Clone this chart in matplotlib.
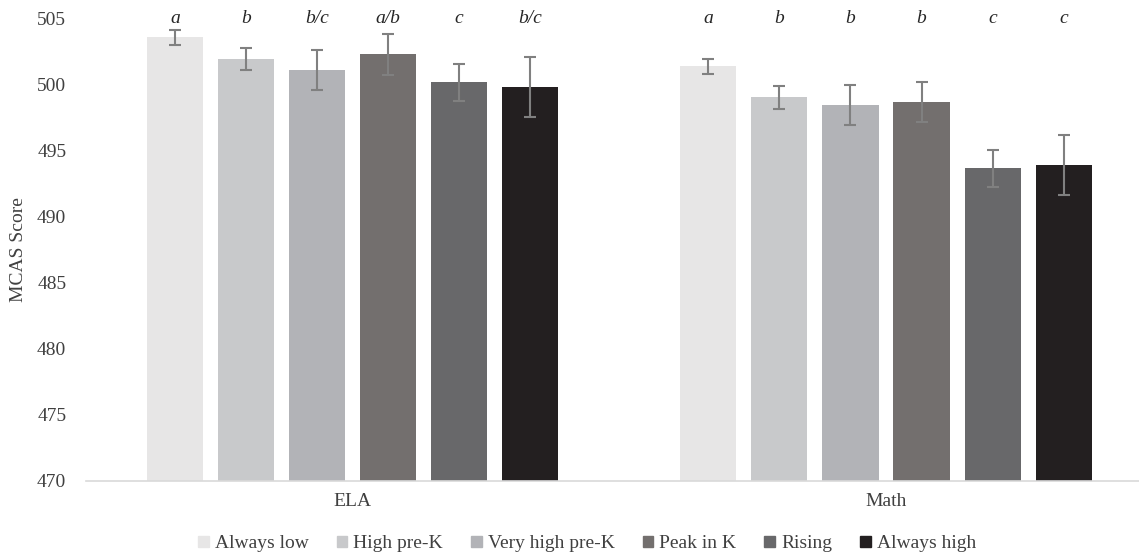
import numpy as np
import matplotlib
matplotlib.use('Agg')
import matplotlib.pyplot as plt
from matplotlib.patches import Rectangle

plt.rcParams['font.family'] = ['Liberation Serif', 'DejaVu Serif']

##data
subjects = ['ELA', 'Math']
groups = ['Always low', 'High pre-K', 'Very high pre-K', 'Peak in K', 'Rising', 'Always high']
colors = ['#E7E6E6', '#C8C9CB', '#B2B3B7', '#736F6E', '#68686A', '#231F20']

ela_means = [503.55, 501.9, 501.07, 502.25, 500.12, 499.77]
ela_err = [0.56, 0.85, 1.5, 1.53, 1.4, 2.25]
math_means = [501.33, 499.02, 498.43, 498.66, 493.62, 493.89]
math_err = [0.57, 0.87, 1.52, 1.53, 1.38, 2.27]

ela_letters = ['a', 'b', 'b/c', 'a/b', 'c', 'b/c']
math_letters = ['a', 'b', 'b', 'b', 'c', 'c']

means = [ela_means, math_means]
errs = [ela_err, math_err]
letters = [ela_letters, math_letters]

fig = plt.figure(figsize=(11.39, 5.57), dpi=100)
ax = fig.add_axes([85.75 / 1139, 1 - 480.5 / 557, 1067 / 1139, 462.5 / 557])

x = np.arange(len(subjects))
pitch = 0.1331
width = 0.105
text_col = '#404040'
fs = 14

for i, g in enumerate(groups):
    pos = x + (i - 2.5) * pitch
    vals = [means[k][i] for k in range(len(subjects))]
    ee = [errs[k][i] for k in range(len(subjects))]
    ax.bar(pos, np.array(vals) - 470, width, bottom=470, color=colors[i], label=g, zorder=2)
    ax.errorbar(pos, vals, yerr=ee, fmt='none', ecolor='#808080', elinewidth=1.5,
                capsize=4, capthick=1.5, zorder=3)
    for k in range(len(subjects)):
        ax.text(pos[k], 505, letters[k][i], ha='center', va='center', style='italic',
                fontsize=fs, color='#262626', clip_on=False)

ax.set_ylim(470, 505)
ax.set_xlim(-0.5, 1.5)
ax.set_yticks(range(470, 506, 5))
ax.set_xticks(x)
ax.set_xticklabels(subjects)
ax.tick_params(axis='y', length=0, pad=14, labelsize=fs, labelcolor=text_col)
ax.tick_params(axis='x', length=0, pad=9, labelsize=fs, labelcolor=text_col)
for s in ['top', 'right', 'left']:
    ax.spines[s].set_visible(False)
ax.spines['bottom'].set_color('#D9D9D9')
ax.spines['bottom'].set_linewidth(1.2)
ax.set_ylabel('MCAS Score', fontsize=fs, color=text_col)
ax.yaxis.set_label_coords(-(85.75 - 27) / 1067, 0.5)

handles = [Rectangle((0, 0), 1, 1, color=c) for c in colors]
fig.legend(handles, groups, loc='center', bbox_to_anchor=(587 / 1139, 1 - 544 / 557),
           ncol=6, frameon=False, fontsize=fs, handlelength=0.55, handleheight=0.55,
           handletextpad=0.3, columnspacing=1.45, labelcolor=text_col)

fig.savefig('out.png', dpi=100)
